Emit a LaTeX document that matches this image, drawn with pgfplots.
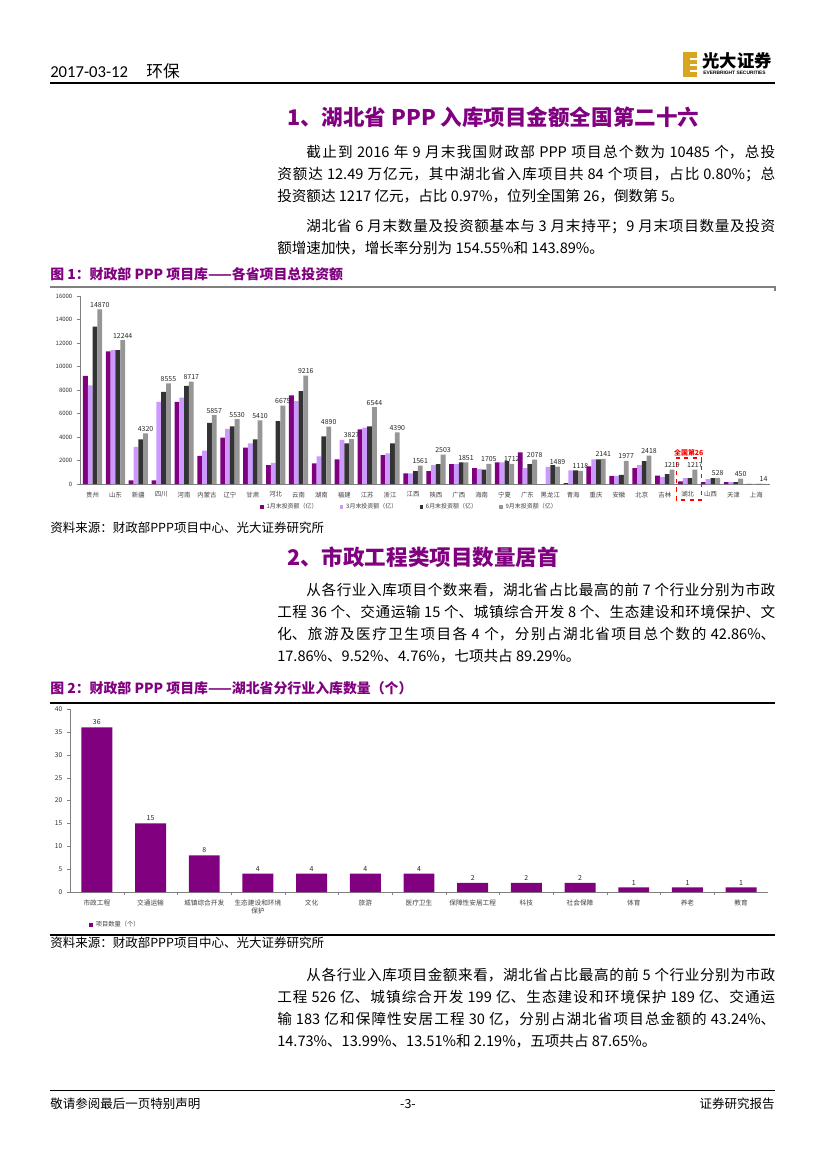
\documentclass[border=0pt]{standalone}
\usepackage{fontspec}
\setmainfont{Noto Sans CJK SC}
\newfontfamily\carlito{Carlito}
\newfontfamily\arial{Liberation Sans}
\usepackage{pgfplots}
\usepackage{pgfplotstable}
\pgfplotsset{compat=1.18}
\definecolor{ppurple}{HTML}{800080}
\definecolor{plilac}{HTML}{CC99FF}
\definecolor{pdark}{HTML}{333333}
\definecolor{pgrey}{HTML}{969696}
\definecolor{gold}{HTML}{D9A520}
\XeTeXlinebreaklocale "zh"
\XeTeXlinebreakskip=0pt plus 1.5pt minus 0.3pt

\pgfplotstableread{
x p1 p2 p3 p4
0 9200 8400 13400 14870
1 11300 11400 11400 12244
2 300 3150 3800 4320
3 300 7000 7850 8555
4 7000 7350 8350 8717
5 2400 2850 5200 5857
6 3950 4700 4900 5530
7 3100 3450 3800 5410
8 1600 1800 5350 6675
9 7550 7050 7900 9216
10 1750 2350 4050 4890
11 2100 3750 3450 3827
12 4650 4800 4900 6544
13 2450 2600 3450 4390
14 900 900 1100 1561
15 1100 1600 1700 2503
16 1700 1700 1850 1851
17 1350 1280 1220 1705
18 1850 1850 1950 1712
19 2700 1350 1700 2078
20 0 1450 1600 1489
21 80 1150 1150 1118
22 1500 2100 2100 2141
23 700 700 770 1977
24 1350 1600 1950 2418
25 720 600 850 1219
26 230 500 500 1217
27 170 420 510 528
28 170 170 170 450
29 14 14 14 14
}\provdata

\pgfplotstableread{
x n
0 36
1 15
2 8
3 4
4 4
5 4
6 4
7 2
8 2
9 2
10 1
11 1
12 1
}\inddata

\begin{document}
\begin{tikzpicture}
\begin{scope}[x=0.7198pt,y=-0.7198pt]
\path[use as bounding box] (0,0) rectangle (827,1169);
\fill[white] (0,0) rectangle (827,1169);
% header
\node[anchor=west, inner sep=0pt, font=\fontsize{12}{14}\selectfont] at (50,71) {{\carlito 2017-03-12}\hspace{1.1em}环保};
\fill[gold] (683,52) rectangle (697,77);
\foreach \yy in {58,64,70} {\fill[white] (690,\yy) rectangle (697,\yy+1.6);}
\node[anchor=west, inner sep=0pt, font=\fontsize{12.5}{14}\selectfont\bfseries] at (702,61) {光大证券};
\node[anchor=west, inner sep=0pt, font=\fontsize{3.5}{4}\selectfont\arial\bfseries] at (703,73) {EVERBRIGHT SECURITIES};
\draw[line width=1pt] (50,83) -- (775,83);
% heading 1
\node[anchor=west, inner sep=0pt, text=ppurple, font=\fontsize{15.5}{18}\selectfont\bfseries] at (287,117) {1、湖北省 PPP 入库项目金额全国第二十六};
\node[anchor=north west, inner sep=0pt, text width=358.5pt, align=justify, font=\fontsize{10.5}{15.84}\selectfont] at (277,145) {\hspace*{2em}截止到 2016 年 9 月末我国财政部 PPP 项目总个数为 10485 个，总投\linebreak 资额达 12.49 万亿元，其中湖北省入库项目共 84 个项目，占比 0.80\%；总\linebreak 投资额达 1217 亿元，占比 0.97\%，位列全国第 26，倒数第 5。};
\node[anchor=north west, inner sep=0pt, text width=358.5pt, align=justify, font=\fontsize{10.5}{15.84}\selectfont] at (277,219) {\hspace*{2em}湖北省 6 月末数量及投资额基本与 3 月末持平；9 月末项目数量及投资\linebreak 额增速加快，增长率分别为 154.55\%和 143.89\%。};
% caption 1
\node[anchor=west, inner sep=0pt, text=ppurple, font=\fontsize{10}{12}\selectfont\bfseries] at (50,274) {图 1：财政部 PPP 项目库——各省项目总投资额};
\draw[gray, line width=0.8pt] (50,287) -- (775,287) -- (775,291);
\node[anchor=west, inner sep=0pt, font=\fontsize{9}{11}\selectfont] at (50,528) {资料来源：财政部PPP项目中心、光大证券研究所};
% heading 2
\node[anchor=west, inner sep=0pt, text=ppurple, font=\fontsize{15.5}{18}\selectfont\bfseries] at (287,557) {2、市政工程类项目数量居首};
\node[anchor=north west, inner sep=0pt, text width=358.5pt, align=justify, font=\fontsize{10.5}{15.84}\selectfont] at (277,583) {\hspace*{2em}从各行业入库项目个数来看，湖北省占比最高的前 7 个行业分别为市政\linebreak 工程 36 个、交通运输 15 个、城镇综合开发 8 个、生态建设和环境保护、文\linebreak 化、旅游及医疗卫生项目各 4 个，分别占湖北省项目总个数的 42.86\%、\linebreak 17.86\%、9.52\%、4.76\%，七项共占 89.29\%。};
\node[anchor=west, inner sep=0pt, text=ppurple, font=\fontsize{10}{12}\selectfont\bfseries] at (50,688) {图 2：财政部 PPP 项目库——湖北省分行业入库数量（个）};
\draw[line width=1pt] (50,703) -- (775,703);
\draw[line width=0.8pt] (50,935) -- (775,935);
\node[anchor=west, inner sep=0pt, font=\fontsize{9}{11}\selectfont] at (50,943) {资料来源：财政部PPP项目中心、光大证券研究所};
\node[anchor=north west, inner sep=0pt, text width=358.5pt, align=justify, font=\fontsize{10.5}{15.84}\selectfont] at (277,968) {\hspace*{2em}从各行业入库项目金额来看，湖北省占比最高的前 5 个行业分别为市政\linebreak 工程 526 亿、城镇综合开发 199 亿、生态建设和环境保护 189 亿、交通运\linebreak 输 183 亿和保障性安居工程 30 亿，分别占湖北省项目总金额的 43.24\%、\linebreak 14.73\%、13.99\%、13.51\%和 2.19\%，五项共占 87.65\%。};
% footer
\draw[line width=0.7pt] (50,1090) -- (775,1090);
\node[anchor=west, inner sep=0pt, font=\fontsize{9}{11}\selectfont] at (50,1104) {敬请参阅最后一页特别声明};
\node[inner sep=0pt, font=\fontsize{9}{11}\selectfont] at (408,1104) {-3-};
\node[anchor=east, inner sep=0pt, font=\fontsize{9}{11}\selectfont] at (775,1104) {证券研究报告};
\end{scope}

% chart 1
\begin{axis}[
  at={(57.58pt,-348.38pt)}, anchor=south west,
  scale only axis, width=496.7pt, height=135.3pt,
  xmin=-0.55, xmax=29.6, ymin=0, ymax=16000,
  ytick={0,2000,...,16000},
  scaled y ticks=false,
  yticklabel={\pgfmathprintnumber[fixed,precision=0,1000 sep={}]{\tick}},
  xtick={0,...,29},
  xticklabels={贵州,山东,新疆,四川,河南,内蒙古,辽宁,甘肃,河北,云南,湖南,福建,江苏,浙江,江西,陕西,广西,海南,宁夏,广东,黑龙江,青海,重庆,安徽,北京,吉林,湖北,山西,天津,上海},
  axis x line*=bottom, axis y line*=left,
  axis line style={gray, line width=0.5pt, -},
  major x tick style={draw=none},
  ytick style={gray},
  tick align=outside, major tick length=2pt,
  /pgf/number format/1000 sep={},
  /pgf/number format/assume math mode=true,
  yticklabel style={font=\fontsize{4.3}{5}\selectfont, text=black!80},
  xticklabel style={font=\fontsize{4.6}{5}\selectfont, text=black!75},
  ybar, bar width=0.21,
  clip=false,
  legend columns=4,
  legend style={at={(0.478,-0.122)}, anchor=center, draw=none, fill=none,
    font=\fontsize{4.3}{5}\selectfont, text=black!75,
    /tikz/every even column/.append style={column sep=14pt}},
  legend image code/.code={\fill[#1] (0pt,-1.3pt) rectangle (2.6pt,1.3pt);},
]
\addplot[fill=ppurple, draw=none, bar shift=-0.315] table[x=x,y=p1]{\provdata};
\addplot[fill=plilac, draw=none, bar shift=-0.105] table[x=x,y=p2]{\provdata};
\addplot[fill=pdark, draw=none, bar shift=0.105] table[x=x,y=p3]{\provdata};
\addplot[fill=pgrey, draw=none, bar shift=0.315,
  nodes near coords={\pgfmathprintnumber[fixed,precision=0,1000 sep={}]{\pgfplotspointmeta}},
  nodes near coords style={font=\fontsize{5}{6}\selectfont, text=black!85, anchor=south, inner sep=1.2pt}] table[x=x,y=p4]{\provdata};
\legend{1月末投资额（亿）, 3月末投资额（亿）, 6月末投资额（亿）, 9月末投资额（亿）}
\draw[red, dashed, line width=0.8pt] (axis cs:25.5,-1360) rectangle (axis cs:26.6,2210);
\node[text=red, anchor=south, inner sep=1pt, font=\fontsize{5}{6}\selectfont\bfseries] at (axis cs:26.05,2210) {全国第26};
\end{axis}

% chart 2
\begin{axis}[
  at={(50.39pt,-642.06pt)}, anchor=south west,
  scale only axis, width=502.4pt, height=131.7pt,
  xmin=-0.5, xmax=12.5, ymin=0, ymax=40,
  ytick={0,5,...,40},
  xtick={0,...,12},
  minor xtick={0.5,1.5,...,11.5},
  xticklabels={市政工程,交通运输,城镇综合开发,{生态建设和环境\\保护},文化,旅游,医疗卫生,保障性安居工程,科技,社会保障,体育,养老,教育},
  axis x line*=bottom, axis y line*=left,
  axis line style={gray, line width=0.5pt, -},
  major x tick style={draw=none},
  minor x tick style={gray},
  ytick style={gray},
  tick align=outside, major tick length=2pt, minor tick length=2pt,
  /pgf/number format/assume math mode=true,
  yticklabel style={font=\fontsize{4.8}{6}\selectfont, text=black!80},
  xticklabel style={font=\fontsize{4.8}{6}\selectfont, text=black!75, align=center},
  ybar, bar width=0.576,
  clip=false,
  legend style={at={(0.0215,-0.18)}, anchor=west, draw=none, fill=none,
    font=\fontsize{4.5}{5}\selectfont, text=black!75},
  legend image code/.code={\fill[#1] (0pt,-1.3pt) rectangle (2.6pt,1.3pt);},
]
\addplot[fill=ppurple, draw=none, bar shift=0,
  nodes near coords, nodes near coords style={font=\fontsize{5}{6}\selectfont, text=black!85, anchor=south, inner sep=1.5pt}] table[x=x,y=n]{\inddata};
\legend{项目数量（个）}
\end{axis}
\end{tikzpicture}
\end{document}
